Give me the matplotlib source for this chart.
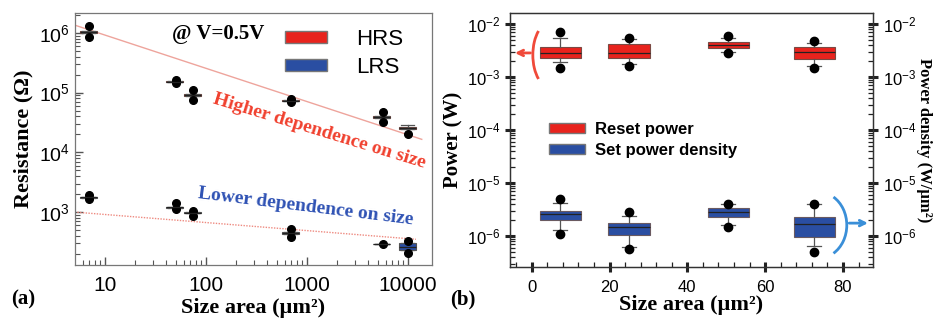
import matplotlib
matplotlib.use("Agg")
import matplotlib.pyplot as plt
from matplotlib.patches import Patch, Arc
from matplotlib.ticker import (LogLocator, MultipleLocator, FixedLocator,
                               FuncFormatter, NullFormatter)

plt.rcParams["font.family"] = ["Liberation Sans", "DejaVu Sans"]
plt.rcParams["mathtext.default"] = "regular"
SERIF = ["Liberation Serif", "DejaVu Serif"]

# ---- panel (a): resistance vs size area ----
size_a = [7, 50, 75, 700, 5600, 10000]
hrs_med = [1.04e6, 1.51e5, 9.1e4, 7.3e4, 3.9e4, 2.57e4]
hrs_q1 = [1.00e6, 1.48e5, 8.8e4, 7.1e4, 3.7e4, 2.45e4]
hrs_q3 = [1.08e6, 1.54e5, 9.4e4, 7.5e4, 4.1e4, 2.65e4]
hrs_whishi = [1.08e6, 1.54e5, 9.4e4, 7.5e4, 4.1e4, 2.85e4]
hrs_dot_hi = [1.30e6, 1.60e5, 1.10e5, 7.7e4, 4.7e4, None]
hrs_dot_lo = [0.86e6, 1.45e5, 7.6e4, 7.0e4, 3.2e4, 2.0e4]

lrs_med = [1.78e3, 1.20e3, 980, 445, 291, 259]
lrs_q1 = [1.74e3, 1.17e3, 960, 425, 289, 231]
lrs_q3 = [1.82e3, 1.23e3, 1.00e3, 470, 293, 302]
lrs_dot_hi = [1.92e3, 1.40e3, 1.04e3, 520, 291, 327]
lrs_dot_lo = [1.66e3, 1.12e3, 860, 380, None, 205]

hrs_fit_x = [5, 13700]
hrs_fit_y = [1.35e6, 1.65e4]
lrs_fit_x = [5, 12000]
lrs_fit_y = [1000, 350]

# ---- panel (b): power vs size area ----
pos_b = [7.3, 25, 50.5, 72.6]
reset_q1 = [2.3e-3, 2.3e-3, 3.5e-3, 2.2e-3]
reset_med = [2.8e-3, 2.8e-3, 4.0e-3, 2.95e-3]
reset_q3 = [3.7e-3, 4.2e-3, 4.6e-3, 3.7e-3]
reset_whislo = [1.9e-3, 1.8e-3, 3.0e-3, 1.6e-3]
reset_whishi = [5.5e-3, 5.2e-3, 5.5e-3, 4.4e-3]
reset_dot_lo = [1.48e-3, 1.6e-3, 2.8e-3, 1.48e-3]
reset_dot_hi = [7.0e-3, 5.6e-3, 5.9e-3, 4.8e-3]

set_q1 = [2.0e-6, 1.04e-6, 2.3e-6, 9.5e-7]
set_med = [2.6e-6, 1.48e-6, 2.8e-6, 1.7e-6]
set_q3 = [3.0e-6, 1.75e-6, 3.4e-6, 2.3e-6]
set_whislo = [1.3e-6, 6.3e-7, 1.6e-6, 6.5e-7]
set_whishi = [4.2e-6, 2.4e-6, 4.0e-6, 4.0e-6]
set_dot_lo = [1.1e-6, 5.6e-7, 1.5e-6, 5.0e-7]
set_dot_hi = [5.0e-6, 2.8e-6, 4.0e-6, 4.0e-6]

RED = "#e8231d"
BLUE = "#2a4ea2"


def make_stats(q1, med, q3, wlo, whi, dlo, dhi):
    stats = []
    for i in range(len(med)):
        fl = [v for v in (dlo[i], dhi[i]) if v is not None]
        stats.append(dict(q1=q1[i], med=med[i], q3=q3[i],
                          whislo=wlo[i], whishi=whi[i], fliers=fl))
    return stats


def draw_boxes(ax, stats, pos, widths, color, edge, ms, capw):
    ax.bxp(stats, positions=pos, widths=widths, capwidths=capw,
           showfliers=True, patch_artist=True, manage_ticks=False,
           boxprops=dict(facecolor=color, edgecolor=edge, lw=0.8),
           medianprops=dict(color="#222222", lw=0.9),
           whiskerprops=dict(color="#555555", lw=0.9),
           capprops=dict(color="#555555", lw=0.9),
           flierprops=dict(marker="o", markerfacecolor="black",
                           markeredgecolor="black", markersize=ms))


fig = plt.figure(figsize=(9.33, 3.21), dpi=100)
ax1 = fig.add_axes([0.0804, 0.1745, 0.3826, 0.785])
ax2 = fig.add_axes([0.5466, 0.168, 0.389, 0.7913])

# ---------------- panel (a) ----------------
ax1.set_xscale("log")
ax1.set_yscale("log")
ax1.plot(hrs_fit_x, hrs_fit_y, color="#eea49c", lw=1.0)
ax1.plot(lrs_fit_x, lrs_fit_y, color="#ee8a80", lw=1.0, ls=(0, (1, 1)))

w_a = [p * 0.38 for p in size_a]
cw_a = [p * 0.3 for p in size_a]
draw_boxes(ax1, make_stats(hrs_q1, hrs_med, hrs_q3, hrs_q1, hrs_whishi,
                           hrs_dot_lo, hrs_dot_hi),
           size_a, w_a, RED, "#6b4a44", 5.5, cw_a)
draw_boxes(ax1, make_stats(lrs_q1, lrs_med, lrs_q3, lrs_q1, lrs_q3,
                           lrs_dot_lo, lrs_dot_hi),
           size_a, w_a, BLUE, "#555555", 5.5, cw_a)

ax1.set_xlim(5.05, 17300)
ax1.set_ylim(130, 2.15e6)
ax1.xaxis.set_major_locator(FixedLocator([10, 100, 1000, 10000]))
ax1.xaxis.set_major_formatter(FuncFormatter(lambda v, p: f"{int(v)}"))
ax1.xaxis.set_minor_locator(LogLocator(base=10, subs=range(2, 10), numticks=20))
ax1.xaxis.set_minor_formatter(NullFormatter())
ax1.yaxis.set_major_locator(LogLocator(base=10, numticks=10))
ax1.yaxis.set_minor_locator(LogLocator(base=10, subs=range(2, 10), numticks=20))
ax1.yaxis.set_minor_formatter(NullFormatter())
ax1.tick_params(which="both", direction="in", color="#555555")
ax1.tick_params(which="major", length=6, width=1.0)
ax1.tick_params(which="minor", length=3.5, width=0.8)
ax1.tick_params(axis="x", labelsize=15, pad=8)
ax1.tick_params(axis="y", labelsize=14)
for s in ax1.spines.values():
    s.set_color("#777777")
    s.set_linewidth(0.9)

ax1.set_xlabel("Size area (µm²)", family=SERIF, fontweight="bold",
               fontsize=16, labelpad=2)
ax1.set_ylabel("Resistance (Ω)", family=SERIF, fontweight="bold",
               fontsize=16, labelpad=4)

ax1.text(0.4, 0.915, "@ V=0.5V", transform=ax1.transAxes, ha="center",
         va="center", family=SERIF, fontweight="bold", fontsize=15)
ax1.legend(handles=[Patch(facecolor=RED, edgecolor="#777777", label="HRS"),
                    Patch(facecolor=BLUE, edgecolor="#777777", label="LRS")],
           loc="upper left", bbox_to_anchor=(0.545, 1.0), frameon=False,
           fontsize=16, handlelength=1.9, handleheight=0.45,
           handletextpad=1.3, labelspacing=0.35, borderaxespad=0.3)

ax1.text(0.685, 0.53, "Higher dependence on size", transform=ax1.transAxes,
         ha="center", va="center", rotation=-17, color="#f0402e",
         family=SERIF, fontweight="bold", fontsize=14)
ax1.text(0.645, 0.23, "Lower dependence on size", transform=ax1.transAxes,
         ha="center", va="center", rotation=-7, color="#2f52b4",
         family=SERIF, fontweight="bold", fontsize=14)

fig.text(0.012, 0.05, "(a)", family=SERIF, fontweight="bold", fontsize=15)
fig.text(0.482, 0.05, "(b)", family=SERIF, fontweight="bold", fontsize=15)

# ---------------- panel (b) ----------------
ax2.set_yscale("log")
draw_boxes(ax2, make_stats(reset_q1, reset_med, reset_q3, reset_whislo,
                           reset_whishi, reset_dot_lo, reset_dot_hi),
           pos_b, 10.6, RED, "#7a4a44", 6, 3.6)
draw_boxes(ax2, make_stats(set_q1, set_med, set_q3, set_whislo,
                           set_whishi, set_dot_lo, set_dot_hi),
           pos_b, 10.6, BLUE, "#6a5a60", 6, 3.6)

ax2.set_xlim(-5.6, 87.7)
ax2.set_ylim(2.6e-7, 1.62e-2)
ax2.xaxis.set_major_locator(MultipleLocator(20))
ax2.xaxis.set_minor_locator(MultipleLocator(4))

ax2r = ax2.twinx()
ax2r.set_yscale("log")
ax2r.set_ylim(ax2.get_ylim())

for ax in (ax2, ax2r):
    ax.yaxis.set_major_locator(LogLocator(base=10, numticks=12))
    ax.yaxis.set_minor_locator(LogLocator(base=10, subs=range(2, 10), numticks=30))
    ax.yaxis.set_minor_formatter(NullFormatter())
    ax.tick_params(which="major", direction="inout", length=7, width=2.2,
                   color="#222222", labelsize=12)
    ax.tick_params(which="minor", direction="in", length=3.5, width=0.9,
                   color="#222222")
    for s in ax.spines.values():
        s.set_color("#333333")
        s.set_linewidth(0.9)
ax2.tick_params(axis="x", which="major", pad=6)

ax2.set_xlabel("Size area (µm²)", family=SERIF, fontweight="bold",
               fontsize=16, labelpad=0)
ax2.set_ylabel("Power (W)", family=SERIF, fontweight="bold",
               fontsize=15, labelpad=2)
ax2r.set_ylabel("Power density (W/µm²)", family=SERIF, fontweight="bold",
                fontsize=12, rotation=-90, va="center")
ax2r.yaxis.set_label_coords(1.14, 0.5)

ax2.legend(handles=[Patch(facecolor=RED, edgecolor="#777777", label="Reset power"),
                    Patch(facecolor=BLUE, edgecolor="#777777",
                          label="Set power density")],
           loc="upper left", bbox_to_anchor=(0.065, 0.63), frameon=False,
           prop=dict(weight="bold", size=12), handlelength=2.2,
           handleheight=0.5, handletextpad=0.6, labelspacing=0.35)

# annotation arcs and arrows pointing at the relevant axes
ax2.add_patch(Arc((0.113, 0.835), 0.1, 0.26, theta1=110, theta2=250,
                  transform=ax2.transAxes, color="#f04a3a", lw=2))
ax2.annotate("", xy=(0.006, 0.843), xytext=(0.064, 0.843),
             xycoords="axes fraction",
             arrowprops=dict(arrowstyle="->", color="#f04a3a", lw=2))
ax2.add_patch(Arc((0.851, 0.165), 0.154, 0.26, theta1=-70, theta2=70,
                  transform=ax2.transAxes, color="#3a8fd8", lw=2))
ax2.annotate("", xy=(0.994, 0.173), xytext=(0.927, 0.173),
             xycoords="axes fraction",
             arrowprops=dict(arrowstyle="->", color="#3a8fd8", lw=2))

fig.savefig("out.png", dpi=100)
